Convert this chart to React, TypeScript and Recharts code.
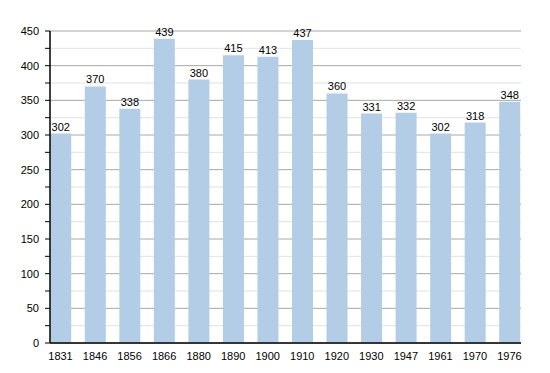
import { BarChart, Bar, XAxis, YAxis, CartesianGrid, LabelList } from 'recharts'

const years = ['1831', '1846', '1856', '1866', '1880', '1890', '1900', '1910', '1920', '1930', '1947', '1961', '1970', '1976']
const population = [302, 370, 338, 439, 380, 415, 413, 437, 360, 331, 332, 302, 318, 348]
const yTicks = [0, 25, 50, 75, 100, 125, 150, 175, 200, 225, 250, 275, 300, 325, 350, 375, 400, 425, 450]

const data = years.map((year, i) => ({ year, population: population[i] }))

const font = 'Liberation Sans, Arial, sans-serif'

// major lines every 50 are darker, the 25 ones in between light
function GridLine(props: any) {
  const major = Math.round(props.index) % 2 === 0
  return (
    <line
      key={props.key}
      x1={props.x1}
      x2={props.x2}
      y1={props.y1}
      y2={props.y2}
      stroke={major ? '#a8a8a8' : '#e2e2e2'}
      strokeWidth={1}
    />
  )
}

export default function App() {
  return (
    <div style={{ position: 'absolute', left: 0, top: 0, background: '#fff' }}>
      <BarChart
        width={550}
        height={373}
        data={data}
        margin={{ top: 31, right: 29, bottom: 0, left: 0 }}
        barCategoryGap={0}
      >
        <CartesianGrid vertical={false} horizontal={GridLine} />
        <XAxis
          dataKey="year"
          height={30}
          padding={{ left: -6.75, right: -5.75 }}
          axisLine={{ stroke: '#000', strokeWidth: 1.5 }}
          tickLine={false}
          tick={{ fill: '#000', fontSize: 11, fontFamily: font }}
          tickMargin={3}
          interval={0}
        />
        <YAxis
          width={50}
          domain={[0, 450]}
          ticks={yTicks}
          interval={0}
          tickFormatter={(v: number) => (v % 50 === 0 ? String(v) : '')}
          axisLine={{ stroke: '#000', strokeWidth: 1.5 }}
          tickLine={{ stroke: '#000' }}
          tickSize={5}
          tickMargin={6}
          tick={{ fill: '#000', fontSize: 11, fontFamily: font }}
        />
        <Bar dataKey="population" fill="#b3cde6" barSize={21} isAnimationActive={false}>
          <LabelList dataKey="population" position="top" offset={3} fill="#000" fontSize={11} fontFamily={font} />
        </Bar>
      </BarChart>
    </div>
  )
}
